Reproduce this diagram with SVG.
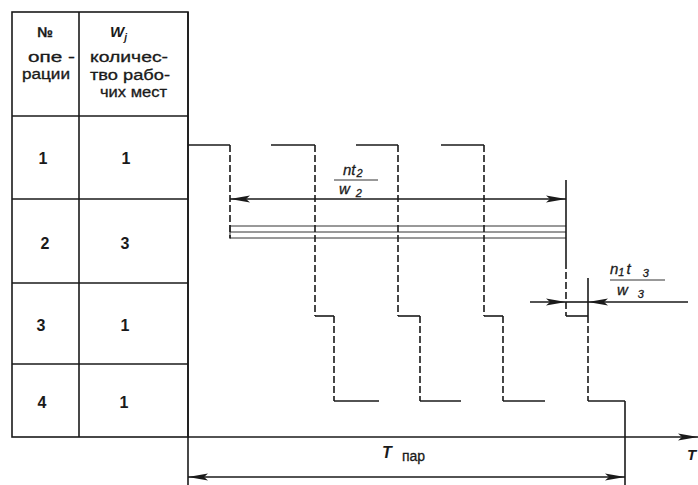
<svg xmlns="http://www.w3.org/2000/svg" width="698" height="485" viewBox="0 0 698 485">
<defs>
<style>
.ln{stroke:#1a1a1a;stroke-width:1.6;fill:none}
.th{stroke:#333;stroke-width:1;fill:none}
.ds{stroke:#1a1a1a;stroke-width:1.6;fill:none;stroke-dasharray:7 3}
.t{font-family:"Liberation Sans",Arial,sans-serif;fill:#1a1a1a}
.hd{font-size:14px;stroke:#1a1a1a;stroke-width:0.3}
.dg{font-size:16px;font-weight:bold;text-anchor:middle}
.it{font-style:italic;font-size:15px;stroke:#1a1a1a;stroke-width:0.3}
.sb{font-size:11px}
</style>
<marker id="ah" viewBox="0 0 20 8" refX="20" refY="4" markerWidth="20" markerHeight="8" markerUnits="userSpaceOnUse" orient="auto">
<path d="M0,0.5 L20,4 L0,7.5 L4,4 Z" fill="#1a1a1a"/>
</marker>
<marker id="ahs" viewBox="0 0 20 8" refX="20" refY="4" markerWidth="20" markerHeight="8" markerUnits="userSpaceOnUse" orient="auto-start-reverse">
<path d="M0,0.5 L20,4 L0,7.5 L4,4 Z" fill="#1a1a1a"/>
</marker>
</defs>
<rect width="698" height="485" fill="#fff"/>

<g id="table">
<rect x="12" y="12" width="176" height="425" class="ln"/>
<line x1="79" y1="12" x2="79" y2="437" class="ln"/>
<line x1="12" y1="116" x2="188" y2="116" class="ln"/>
<line x1="12" y1="199" x2="188" y2="199" class="ln"/>
<line x1="12" y1="283" x2="188" y2="283" class="ln"/>
<line x1="12" y1="364" x2="188" y2="364" class="ln"/>
<text class="t hd" x="45" y="37" text-anchor="middle" font-weight="bold">№</text>
<text class="t hd" x="28" y="62" textLength="47" lengthAdjust="spacingAndGlyphs">опе -</text>
<text class="t hd" x="22" y="79" textLength="48" lengthAdjust="spacingAndGlyphs">рации</text>
<text class="t" x="110" y="37" font-size="15" font-style="italic" font-weight="bold">W<tspan font-size="10" dy="4">j</tspan></text>
<text class="t hd" x="90" y="62" textLength="78" lengthAdjust="spacingAndGlyphs">количес-</text>
<text class="t hd" x="90" y="80" textLength="80" lengthAdjust="spacingAndGlyphs">тво рабо-</text>
<text class="t hd" x="100" y="97" textLength="67" lengthAdjust="spacingAndGlyphs">чих мест</text>
<text class="t dg" x="43" y="164">1</text>
<text class="t dg" x="126" y="164">1</text>
<text class="t dg" x="45" y="249">2</text>
<text class="t dg" x="125" y="249">3</text>
<text class="t dg" x="41" y="331">3</text>
<text class="t dg" x="125" y="331">1</text>
<text class="t dg" x="42" y="408">4</text>
<text class="t dg" x="124" y="408">1</text>
</g>

<g id="axes">
<line x1="188" y1="12" x2="188" y2="485" class="ln"/>
<line x1="188" y1="437" x2="698" y2="437" class="ln" marker-end="url(#ah)"/>
<text class="t" x="687" y="460" font-size="15" font-style="italic" font-weight="bold">T</text>
</g>

<g id="op1">
<line x1="188" y1="145" x2="230" y2="145" class="ln"/>
<line x1="271" y1="145" x2="315" y2="145" class="ln"/>
<line x1="356" y1="145" x2="398" y2="145" class="ln"/>
<line x1="441" y1="145" x2="484" y2="145" class="ln"/>
</g>

<g id="op2">
<line x1="230" y1="226" x2="566" y2="226" class="th"/>
<line x1="230" y1="232" x2="566" y2="232" class="th"/>
<line x1="230" y1="238" x2="566" y2="238" class="th"/>
<line x1="230" y1="225" x2="230" y2="239" class="th"/>
</g>

<g id="op3">
<line x1="315" y1="316" x2="334" y2="316" class="ln"/>
<line x1="398" y1="316" x2="420" y2="316" class="ln"/>
<line x1="484" y1="316" x2="503" y2="316" class="ln"/>
<line x1="566" y1="316" x2="588" y2="316" class="ln"/>
</g>

<g id="op4">
<line x1="334" y1="401" x2="379" y2="401" class="ln"/>
<line x1="420" y1="401" x2="461" y2="401" class="ln"/>
<line x1="503" y1="401" x2="545" y2="401" class="ln"/>
<line x1="588" y1="401" x2="625" y2="401" class="ln"/>
</g>

<g id="connectors">
<line x1="230" y1="145" x2="230" y2="238" class="ds"/>
<line x1="315" y1="145" x2="315" y2="316" class="ds"/>
<line x1="398" y1="145" x2="398" y2="316" class="ds"/>
<line x1="484" y1="145" x2="484" y2="316" class="ds"/>
<line x1="334" y1="316" x2="334" y2="401" class="ds"/>
<line x1="420" y1="316" x2="420" y2="401" class="ds"/>
<line x1="503" y1="316" x2="503" y2="401" class="ds"/>
<line x1="588" y1="316" x2="588" y2="401" class="ds"/>
<line x1="566" y1="180" x2="566" y2="262" class="ln"/>
<line x1="566" y1="262" x2="566" y2="316" class="ds"/>
<line x1="588" y1="278" x2="588" y2="316" class="ln"/>
<line x1="625" y1="401" x2="625" y2="485" class="ln"/>
<line x1="230" y1="199" x2="566" y2="199" class="ln" marker-start="url(#ahs)" marker-end="url(#ahs)"/>
<line x1="530" y1="302" x2="566" y2="302" class="ln" marker-end="url(#ah)"/>
<line x1="566" y1="302" x2="588" y2="302" class="ln"/>
<line x1="688" y1="302" x2="588" y2="302" class="ln" marker-end="url(#ah)"/>
<line x1="188" y1="477" x2="625" y2="477" class="ln" marker-start="url(#ahs)" marker-end="url(#ahs)"/>
</g>

<g id="labels">
<line x1="334" y1="180" x2="378" y2="180" class="th"/>
<text class="t it" x="343" y="175">nt<tspan class="sb" dx="1" dy="2">2</tspan></text>
<text class="t it" x="339" y="194">w<tspan class="sb" dx="6" dy="3">2</tspan></text>
<line x1="610" y1="280" x2="665" y2="280" class="th"/>
<text class="t it" x="610" y="274">n<tspan class="sb" dy="2">1</tspan><tspan dx="2" dy="-2">t</tspan><tspan class="sb" dx="12" dy="3">3</tspan></text>
<text class="t it" x="617" y="295">w<tspan class="sb" dx="10" dy="3">3</tspan></text>
<text class="t" x="382" y="458" font-size="16" font-style="italic" font-weight="bold">T</text>
<text class="t" x="402" y="461" font-size="14" stroke="#1a1a1a" stroke-width="0.3">пар</text>
</g>
</svg>
